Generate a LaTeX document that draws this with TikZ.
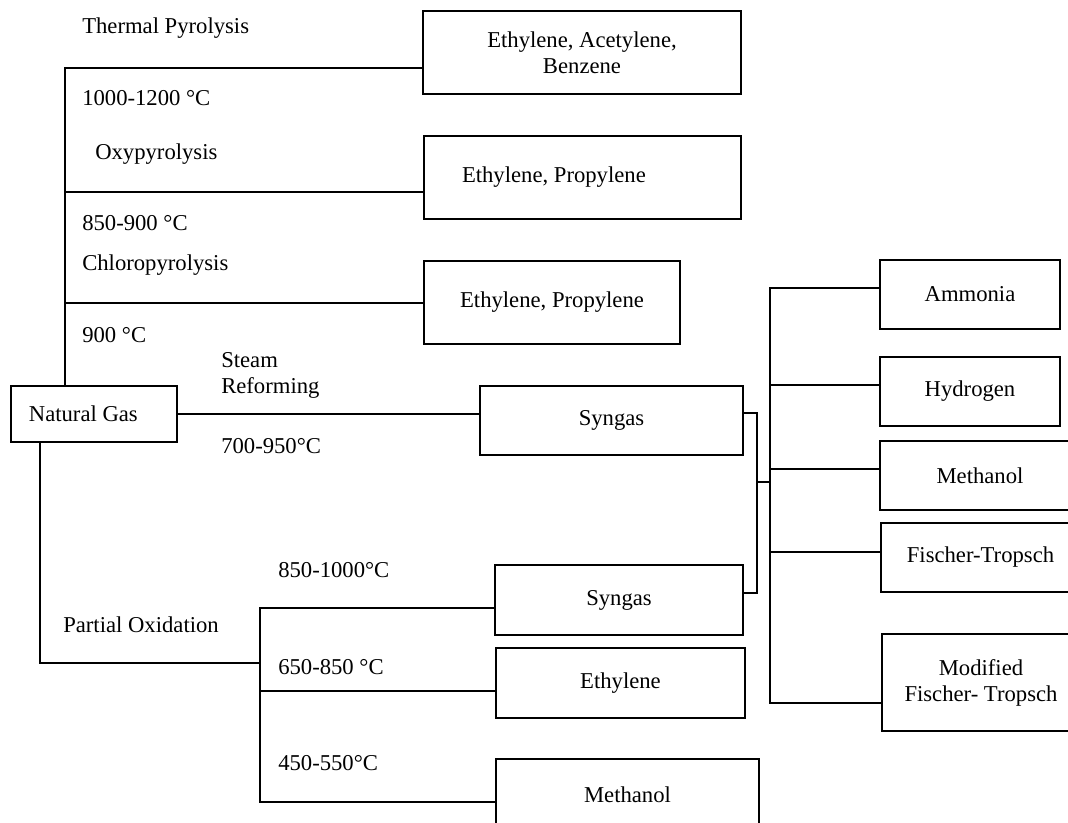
\documentclass[tikz,border=0pt]{standalone}
\usepackage{fontspec}
\setmainfont{Liberation Serif}
\tikzset{
  box/.style={draw, line width=0.8pt, rectangle, align=center, inner sep=0pt},
  lbl/.style={anchor=west, inner sep=0pt, align=left},
  wire/.style={line width=0.8pt}
}
\begin{document}
\begin{tikzpicture}[x=0.75pt,y=0.75pt,yscale=-1,xscale=1,font=\fontsize{17}{19.5}\selectfont]
\useasboundingbox (0,0) rectangle (1068,822);

% Boxes
\node[box, minimum width=318*0.75pt, minimum height=83*0.75pt] (eab) at (582,52.5) {Ethylene, Acetylene,\\Benzene};
\node[box, minimum height=83*0.75pt, text width=241*0.75pt, inner xsep=38*0.75pt, align=flush left] (ep1) at (582.5,177.5) {Ethylene, Propylene};
\node[box, minimum width=256*0.75pt, minimum height=83*0.75pt] (ep2) at (552,302.5) {Ethylene, Propylene};
\node[box, minimum width=166*0.75pt, minimum height=56*0.75pt] (ng) at (94,414) {Natural Gas\hspace{16pt}};
\node[box, minimum width=263*0.75pt, minimum height=69*0.75pt] (syn1) at (611.5,420.5) {Syngas};
\node[box, minimum width=248*0.75pt, minimum height=70*0.75pt] (syn2) at (619,600) {Syngas};
\node[box, minimum width=249*0.75pt, minimum height=70*0.75pt] (eth) at (620.5,683) {Ethylene};
\node[box, minimum width=263*0.75pt, minimum height=71*0.75pt] (meth) at (627.5,794.5) {Methanol};
\node[box, minimum width=180*0.75pt, minimum height=69*0.75pt] (amm) at (970,294.5) {Ammonia};
\node[box, minimum width=180*0.75pt, minimum height=69*0.75pt] (hyd) at (970,391.5) {Hydrogen};
\node[box, minimum width=200*0.75pt, minimum height=69*0.75pt] (meo) at (980,475.5) {Methanol};
\node[box, minimum width=199*0.75pt, minimum height=69*0.75pt] (ft) at (980.5,557.5) {Fischer-Tropsch};
\node[box, minimum width=198*0.75pt, minimum height=97*0.75pt] (mft) at (981,682.5) {Modified\\Fischer- Tropsch};

% Junctions
\coordinate (top) at (65,68);
\coordinate (j2) at (65,192);
\coordinate (j3) at (65,303);
\coordinate (po) at (40,663);
\coordinate (pj) at (260,663);
\coordinate (b1) at (260,608);
\coordinate (b2) at (260,691);
\coordinate (b3) at (260,802);
\coordinate (m1) at (757,413);
\coordinate (m2) at (757,593);
\coordinate (mm) at (757,482);
\coordinate (bus) at (770,482);
\coordinate (r1) at (770,288);
\coordinate (r2) at (770,385);
\coordinate (r3) at (770,469);
\coordinate (r4) at (770,552);
\coordinate (r5) at (770,703);

% Pyrolysis branches
\draw[wire] (top |- ng.north) -- (top) -- (top -| eab.west);
\draw[wire] (j2) -- (j2 -| ep1.west);
\draw[wire] (j3) -- (j3 -| ep2.west);
% Steam reforming
\draw[wire] (ng.east) -- (ng.east -| syn1.west);
% Partial oxidation
\draw[wire] (po |- ng.south) -- (po) -- (pj);
\draw[wire] (b1 -| syn2.west) -- (b1) -- (b3) -- (b3 -| meth.west);
\draw[wire] (b2) -- (b2 -| eth.west);
% Syngas to products
\draw[wire] (syn1.east |- m1) -- (m1) -- (m2) -- (syn2.east |- m2);
\draw[wire] (mm) -- (bus);
\draw[wire] (r1 -| amm.west) -- (r1) -- (r5) -- (r5 -| mft.west);
\draw[wire] (r2) -- (r2 -| hyd.west);
\draw[wire] (r3) -- (r3 -| meo.west);
\draw[wire] (r4) -- (r4 -| ft.west);

% Text Node
\node[lbl] (tp) at (82,28) {Thermal Pyrolysis};
\node[lbl] (t1) at (82,98) {1000-1200 °C};
\node[lbl] (op) at (95,154) {Oxypyrolysis};
\node[lbl] (t2) at (82,223) {850-900 °C};
\node[lbl] (cp) at (82,265) {Chloropyrolysis};
\node[lbl] (t3) at (82,335) {900 °C};
\node[lbl] (sr) at (221,375) {Steam\\Reforming};
\node[lbl] (t4) at (221,446) {700-950°C};
\node[lbl] (t5) at (278,570) {850-1000°C};
\node[lbl] (pox) at (63,625) {Partial Oxidation};
\node[lbl] (t6) at (278,667) {650-850 °C};
\node[lbl] (t7) at (278,763) {450-550°C};

\end{tikzpicture}
\end{document}
